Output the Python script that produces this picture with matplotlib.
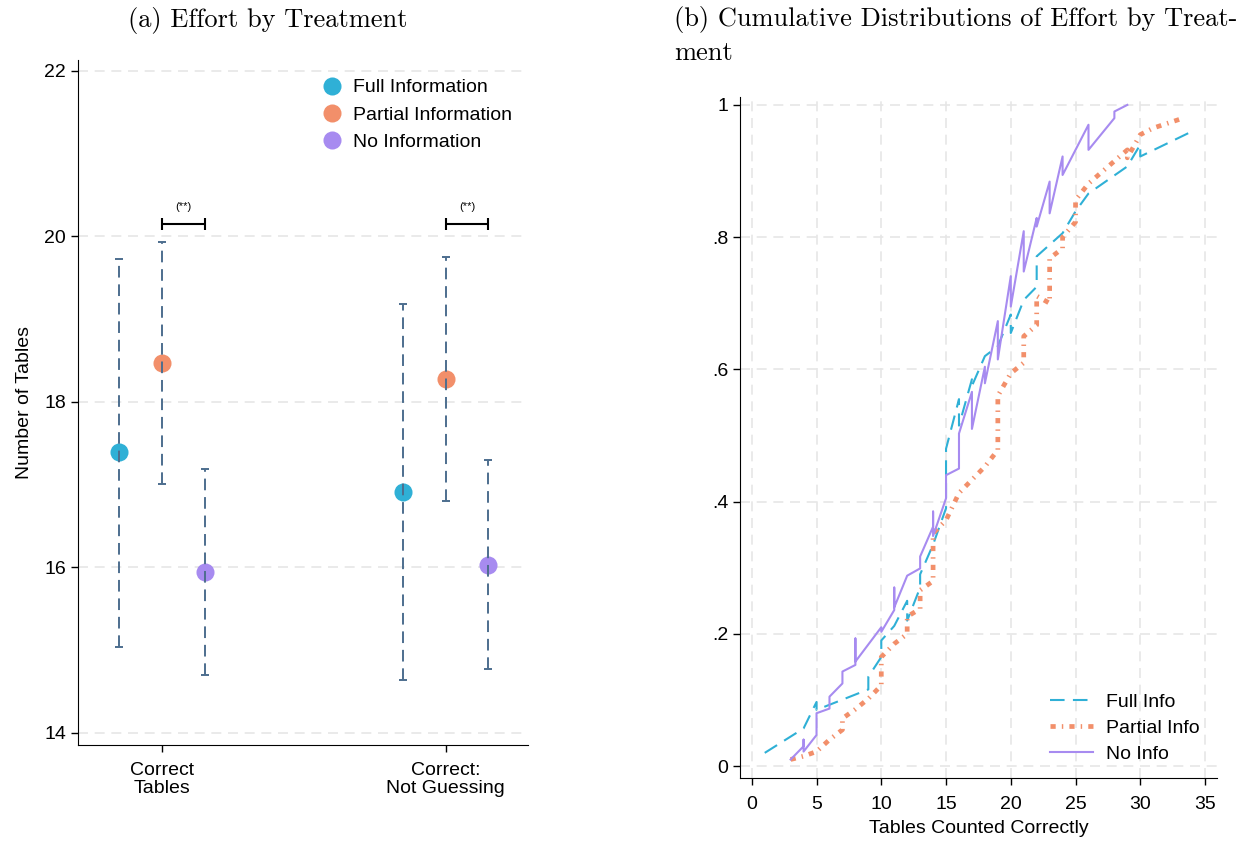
import matplotlib
matplotlib.use("Agg")
import matplotlib.pyplot as plt
import numpy as np

plt.rcParams["font.family"] = ["Liberation Sans", "DejaVu Sans"]

#%% Data: means and 95% CIs by treatment
groups = ["Correct\nTables", "Correct:\nNot Guessing"]
treatments = ["Full Information", "Partial Information", "No Information"]
means = {
    "Full Information": [17.39, 16.91],
    "Partial Information": [18.47, 18.27],
    "No Information": [15.94, 16.03],
}
ci_low = {
    "Full Information": [15.04, 14.64],
    "Partial Information": [17.00, 16.80],
    "No Information": [14.69, 14.77],
}
ci_high = {
    "Full Information": [19.73, 19.18],
    "Partial Information": [19.93, 19.75],
    "No Information": [17.19, 17.29],
}
sig_labels = ["(**)", "(**)"]
sig_level = 20.15

#%% Data: empirical CDFs (sorted effort vs cumulative share)
full_x = [1, 4, 5, 5, 9, 9, 10, 10, 11, 12, 12, 13, 13, 14, 15, 15, 16, 16, 17, 17,
          18, 19, 20, 20, 21, 22, 22, 24, 25, 26, 29, 30, 30, 34]
full_y = [.02, .057, .097, .085, .116, .135, .165, .19, .212, .25, .22, .27, .29, .335,
          .39, .48, .555, .515, .585, .575, .62, .635, .683, .655, .705, .725, .771,
          .806, .839, .866, .907, .94, .922, .96]

part_x = [3, 4, 5, 6, 7, 7, 8, 9, 10, 10, 11, 12, 12, 13, 13, 14, 14, 15, 16, 17,
          18, 19, 19, 20, 21, 21, 22, 22, 23, 23, 24, 24, 25, 25, 26, 29, 29, 30, 31, 33]
part_y = [.01, .015, .022, .04, .055, .072, .086, .102, .122, .165, .185, .2, .226,
          .238, .266, .28, .352, .372, .413, .433, .453, .478, .56, .594, .61, .65,
          .667, .711, .70, .768, .783, .80, .823, .856, .881, .932, .92, .955, .965, .978]

none_x = [3, 4, 4, 4, 5, 5, 6, 6, 7, 7, 8, 8, 8, 10, 10, 11, 11, 11, 12, 13, 13, 14,
          14, 14, 15, 15, 16, 16, 17, 17, 18, 18, 19, 19, 20, 20, 21, 21, 22, 22, 23,
          23, 24, 24, 26, 26, 28, 28, 29]
none_y = [.01, .03, .04, .022, .047, .08, .087, .105, .125, .143, .153, .193, .158,
          .21, .203, .236, .27, .24, .288, .299, .317, .362, .385, .348, .405, .44,
          .45, .503, .566, .51, .604, .579, .673, .615, .741, .695, .809, .748, .829,
          .816, .884, .836, .922, .894, .97, .932, .98, .99, 1.0]

colors = {"Full Information": "#2FB0D6",
          "Partial Information": "#F28F6A",
          "No Information": "#A78BF0"}
ci_color = "#4D6E8E"
grid_color = "#E6E6E6"
fs = 14

fig = plt.figure(figsize=(12.46, 8.41), dpi=100)

#%% Panel (a)
ax1 = fig.add_axes([0.0626, 0.1142, 0.3612, 0.8145])
offsets = [-0.151, 0.0, 0.151]
pos = np.array([1, 2])
for trt, off in zip(treatments, offsets):
    ax1.plot(pos + off, means[trt], "o", ms=13, color=colors[trt], zorder=2,
             label=trt, mec="none")
    lo = np.array(means[trt]) - np.array(ci_low[trt])
    hi = np.array(ci_high[trt]) - np.array(means[trt])
    eb = ax1.errorbar(pos + off, means[trt], yerr=[lo, hi], fmt="none",
                      ecolor=ci_color, elinewidth=1.4, capsize=3, capthick=1.4,
                      zorder=3)
    eb[2][0].set_linestyle((0, (6, 3.5)))

for p, lab in zip(pos, sig_labels):
    x0, x1 = p + offsets[1], p + offsets[2]
    ax1.errorbar((x0 + x1) / 2, sig_level, xerr=(x1 - x0) / 2, fmt="none",
                 ecolor="black", elinewidth=1.5, capsize=4, capthick=1.5)
    ax1.text((x0 + x1) / 2, sig_level + 0.2, lab, ha="center", va="center",
             fontsize=8)

ax1.set_xlim(0.704, 2.291)
ax1.set_ylim(13.85, 22.13)
ax1.set_yticks([14, 16, 18, 20, 22])
ax1.set_xticks(pos)
ax1.set_xticklabels(groups, fontsize=fs, linespacing=1.1)
ax1.tick_params(axis="y", labelsize=fs, length=5, width=1)
ax1.tick_params(axis="x", length=5, width=1, pad=7)
ax1.yaxis.grid(True, color=grid_color, linestyle=(0, (6, 4)), lw=1.2)
ax1.set_axisbelow(True)
for s in ["top", "right"]:
    ax1.spines[s].set_visible(False)
ax1.set_ylabel("Number of Tables", fontsize=fs, labelpad=8)
ax1.legend(loc="upper right", bbox_to_anchor=(1.003, 0.998), frameon=False,
           fontsize=fs, handletextpad=0.05, labelspacing=0.5, markerscale=1.0)

fig.text(268 / 1246, 1 - 20 / 841, "(a) Effort by Treatment",
         family="cmr10", fontsize=19, ha="center", va="center")

#%% Panel (b)
ax2 = fig.add_axes([0.594, 0.0749, 0.383, 0.8098])
ax2.plot(full_x, full_y, color=colors["Full Information"], lw=1.5,
         linestyle=(0, (7, 4)), label="Full Info")
ax2.plot(part_x, part_y, color=colors["Partial Information"], lw=3.4,
         linestyle=(0, (1.1, 1.3, 0.3, 1.3)), solid_capstyle="butt",
         dash_capstyle="butt", label="Partial Info")
ax2.plot(none_x, none_y, color=colors["No Information"], lw=1.5,
         label="No Info")

ax2.set_xlim(-0.9, 35.95)
ax2.set_ylim(-0.018, 1.012)
ax2.set_xticks(range(0, 36, 5))
ax2.set_yticks([0, .2, .4, .6, .8, 1])
ax2.set_yticklabels(["0", ".2", ".4", ".6", ".8", "1"])
ax2.tick_params(labelsize=fs, length=5, width=1)
ax2.tick_params(axis="x", pad=8)
ax2.grid(True, color=grid_color, linestyle=(0, (6, 4)), lw=1.2)
ax2.set_axisbelow(True)
for s in ["top", "right"]:
    ax2.spines[s].set_visible(False)
ax2.set_xlabel("Tables Counted Correctly", fontsize=fs, labelpad=5)
ax2.legend(loc="lower right", bbox_to_anchor=(1.0, -0.004), frameon=False,
           fontsize=fs, handlelength=2.2, handletextpad=0.7, labelspacing=0.45)

fig.text(674 / 1246, 1 - 6 / 841,
         "(b) Cumulative Distributions of Effort by Treat-\nment",
         family="cmr10", fontsize=19, ha="left", va="top", linespacing=1.45)

fig.savefig("out.png", dpi=100, facecolor="white")
